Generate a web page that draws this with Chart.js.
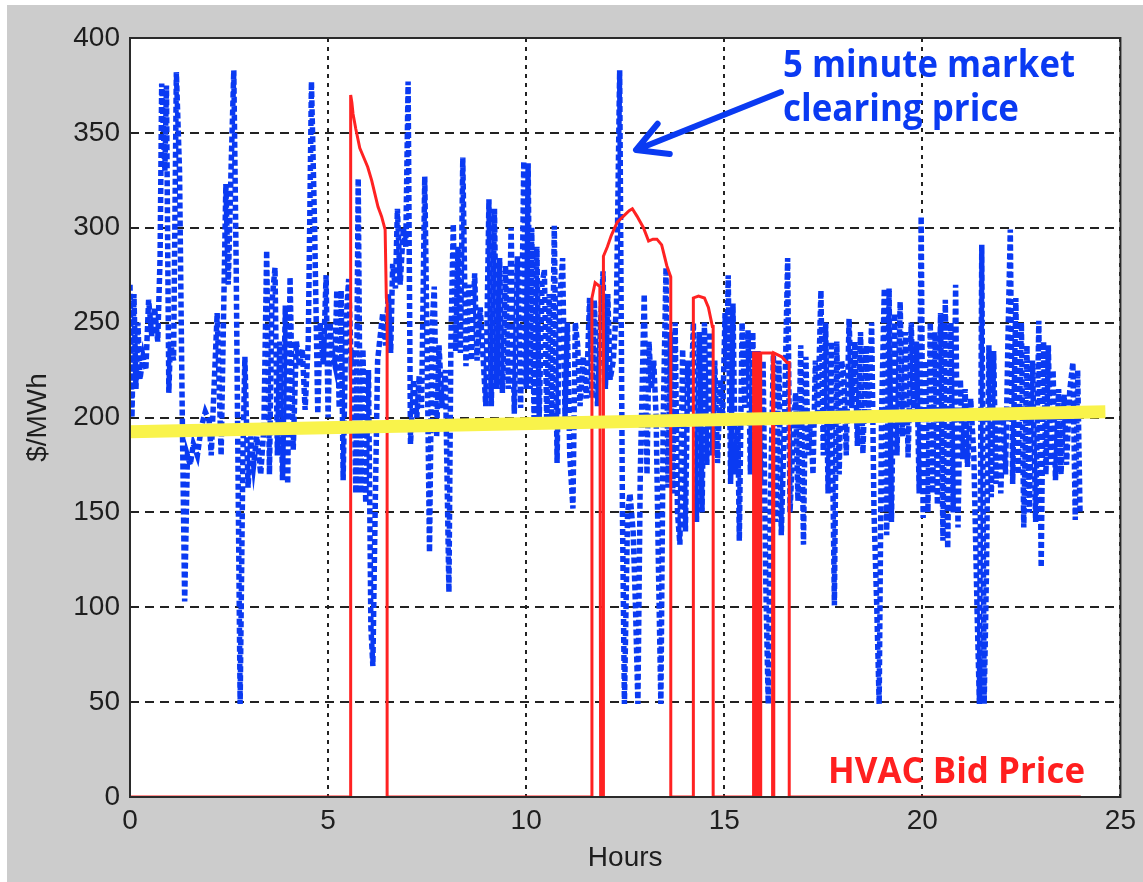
<!DOCTYPE html>
<html>
<head>
<meta charset="utf-8">
<script src="https://cdn.jsdelivr.net/npm/chart.js@4.4.1/dist/chart.umd.min.js"></script>
<style>
  html, body { margin: 0; padding: 0; background: #ffffff; }
  #wrap { width: 1143px; height: 882px; }
</style>
</head>
<body>
<div id="wrap"><canvas id="priceChart"></canvas></div>
<script>
// 5 minute market clearing price ($/MWh)
const priceHours = [
  0.00, 0.05, 0.10, 0.15, 0.20, 0.25, 0.33, 0.40, 0.47, 0.55, 0.62, 0.70, 0.76, 0.80, 0.88, 0.92, 0.98,
  1.02, 1.10, 1.17, 1.25, 1.32, 1.38, 1.45, 1.52, 1.60, 1.70, 1.80, 1.90, 2.00, 2.05, 2.20, 2.30, 2.42,
  2.48, 2.55, 2.62, 2.68, 2.78, 2.85, 2.90, 2.98, 3.05, 3.12, 3.20, 3.30, 3.38, 3.45, 3.52, 3.58, 3.66,
  3.72, 3.78, 3.85, 3.92, 3.98, 4.04, 4.12, 4.20, 4.28, 4.35, 4.42, 4.50, 4.58, 4.66, 4.74, 4.80, 4.88,
  4.95, 5.00, 5.05, 5.10, 5.17, 5.22, 5.28, 5.33, 5.38, 5.45, 5.52, 5.58, 5.64, 5.70, 5.76, 5.82, 5.88,
  5.95, 6.02, 6.08, 6.13, 6.18, 6.25, 6.30, 6.38, 6.45, 6.52, 6.58, 6.63, 6.70, 6.75, 6.82, 6.90, 6.96,
  7.02, 7.08, 7.16, 7.24, 7.30, 7.36, 7.44, 7.50, 7.56, 7.62, 7.68, 7.74, 7.80, 7.88, 7.96, 8.05, 8.10,
  8.16, 8.22, 8.28, 8.34, 8.40, 8.48, 8.55, 8.62, 8.70, 8.76, 8.84, 8.92, 8.98, 9.06, 9.12, 9.20, 9.26,
  9.33, 9.40, 9.48, 9.55, 9.62, 9.70, 9.78, 9.86, 9.94, 10.00, 10.05, 10.10, 10.14, 10.20, 10.27, 10.33,
  10.40, 10.46, 10.52, 10.58, 10.65, 10.71, 10.78, 10.84, 10.92, 10.98, 11.04, 11.10, 11.18, 11.24,
  11.30, 11.36, 11.44, 11.52, 11.60, 11.66, 11.72, 11.80, 11.88, 11.94, 12.00, 12.06, 12.12, 12.20,
  12.28, 12.36, 12.43, 12.48, 12.56, 12.62, 12.70, 12.76, 12.82, 12.88, 12.98, 13.05, 13.10, 13.16,
  13.22, 13.28, 13.34, 13.40, 13.46, 13.53, 13.58, 13.64, 13.70, 13.76, 13.82, 13.88, 13.95, 14.02,
  14.08, 14.15, 14.22, 14.30, 14.37, 14.44, 14.50, 14.56, 14.63, 14.70, 14.76, 14.83, 14.90, 14.96,
  15.02, 15.06, 15.10, 15.16, 15.22, 15.28, 15.34, 15.38, 15.45, 15.52, 15.60, 15.66, 15.72, 15.78,
  15.85, 15.92, 15.98, 16.05, 16.11, 16.16, 16.24, 16.30, 16.38, 16.44, 16.52, 16.60, 16.66, 16.72,
  16.80, 16.86, 16.93, 17.00, 17.06, 17.12, 17.18, 17.24, 17.30, 17.36, 17.44, 17.50, 17.56, 17.62,
  17.70, 17.78, 17.84, 17.90, 17.96, 18.02, 18.08, 18.15, 18.22, 18.30, 18.36, 18.44, 18.50, 18.58,
  18.64, 18.72, 18.78, 18.85, 18.91, 18.97, 19.04, 19.10, 19.16, 19.22, 19.30, 19.36, 19.44, 19.50,
  19.58, 19.64, 19.72, 19.78, 19.85, 19.92, 19.97, 20.02, 20.08, 20.14, 20.20, 20.26, 20.32, 20.38,
  20.46, 20.52, 20.58, 20.64, 20.72, 20.78, 20.84, 20.90, 20.96, 21.02, 21.08, 21.14, 21.22, 21.30,
  21.38, 21.44, 21.50, 21.56, 21.62, 21.68, 21.74, 21.80, 21.86, 21.92, 21.98, 22.04, 22.10, 22.16,
  22.22, 22.28, 22.36, 22.42, 22.50, 22.56, 22.64, 22.70, 22.78, 22.86, 22.94, 23.00, 23.06, 23.12,
  23.18, 23.24, 23.30, 23.36, 23.44, 23.50, 23.58, 23.64, 23.72, 23.80, 23.86, 23.92, 23.98
];
const priceValues = [
  270, 200, 265, 215, 250, 220, 232, 225, 262, 243, 258, 240, 285, 376, 330, 375, 213,
  240, 230, 382, 330, 200, 103, 180, 175, 186, 180, 195, 203, 198, 180, 255, 180, 323,
  270, 330, 383, 280, 49, 180, 232, 163, 190, 175, 190, 170, 195, 288, 170, 260, 279,
  180, 240, 167, 259, 165, 274, 183, 240, 227, 236, 204, 240, 377, 300, 202, 250, 228,
  275, 200, 250, 235, 228, 267, 205, 267, 167, 250, 273, 230, 236, 160, 326, 160, 236,
  155, 225, 90, 69, 140, 230, 240, 255, 238, 265, 234, 281, 268, 310, 270, 300, 290,
  377, 186, 220, 200, 222, 205, 327, 235, 129, 245, 269, 190, 238, 205, 225, 108, 240,
  302, 235, 290, 234, 337, 227, 270, 230, 276, 230, 258, 229, 206, 315, 206, 310, 215,
  284, 213, 280, 215, 300, 202, 285, 205, 335, 215, 334, 215, 300, 197, 290, 200,
  270, 278, 195, 265, 200, 301, 176, 260, 284, 200, 250, 180, 152, 250,
  238, 206, 232, 210, 263, 210, 262, 206, 250, 277, 215, 265, 220, 230,
  260, 383, 150, 49, 150, 160, 140, 100, 49, 170, 265, 170, 240, 215,
  230, 200, 120, 49, 200, 279, 163, 245, 160, 250, 150, 133, 236, 140,
  230, 200, 250, 145, 245, 150, 250, 175, 245, 180, 230, 176, 220, 200,
  255, 225, 275, 165, 260, 170, 200, 135, 250, 205, 246, 170, 245, 175,
  235, 165, 230, 110, 49, 150, 233, 145, 230, 138, 200, 284, 150, 180,
  213, 156, 238, 133, 232, 180, 200, 170, 230, 200, 267, 180, 250, 160,
  240, 101, 240, 170, 230, 222, 180, 252, 205, 240, 185, 245, 181, 238,
  200, 250, 150, 100, 49, 200, 268, 138, 268, 145, 255, 180, 261, 190,
  245, 179, 250, 200, 240, 160, 306, 147, 230, 150, 250, 160, 245, 154,
  255, 135, 262, 131, 250, 150, 270, 142, 220, 178, 215, 174, 210, 180,
  100, 49, 291, 49, 120, 238, 158, 235, 165, 205, 160, 200, 170, 240,
  299, 165, 263, 170, 250, 142, 238, 150, 230, 145, 251, 121, 240, 170,
  238, 175, 225, 167, 215, 170, 212, 175, 214, 229, 146, 225, 150
];

// HVAC bid price ($/MWh)
const bidHours = [
  0, 5.57, 5.57, 5.60, 5.63, 5.70, 5.80, 5.90, 6.00, 6.10, 6.18, 6.26, 6.35, 6.44, 6.47, 6.49, 6.49,
  11.66, 11.66, 11.74, 11.86, 11.88, 11.95, 11.95, 12.05, 12.15, 12.30, 12.45, 12.60, 12.68, 12.80,
  12.96, 13.09, 13.20, 13.30, 13.42, 13.55, 13.65, 13.65,
  14.22, 14.22, 14.35, 14.50, 14.60, 14.70, 14.72, 14.72,
  15.74, 15.74, 15.78, 15.78, 15.82, 15.82, 15.87, 15.87, 15.92, 15.92,
  16.22, 16.22, 16.25, 16.25, 16.45, 16.58, 16.64, 16.64, 24
];
const bidValues = [
  0, 0, 370, 366, 360, 352, 342, 337, 332, 325, 318, 311, 306, 299, 263, 260, 0,
  0, 263, 271, 269, 0, 0, 285, 290, 296, 303, 306, 309, 310, 306,
  300, 293, 294, 294, 291, 280, 274, 0,
  0, 263, 264, 263, 258, 248, 248, 0,
  0, 234, 234, 0, 0, 234, 234, 0, 0, 234,
  234, 0, 0, 234, 232, 229, 229, 0, 0
];

// yellow reference line
const trendHours = [0, 24.62];
const trendValues = [192.5, 203];

const toPoints = (xs, ys) => xs.map((x, i) => ({ x: x, y: ys[i] }));

const frameAndNotes = {
  id: 'frameAndNotes',
  beforeDraw(chart) {
    const { ctx, chartArea: a, width, height } = chart;
    ctx.save();
    ctx.fillStyle = '#ffffff';
    ctx.fillRect(0, 0, width, height);
    ctx.fillStyle = '#cccccc';
    ctx.fillRect(7, 5, width - 7, height - 5);
    ctx.fillStyle = '#ffffff';
    ctx.fillRect(a.left, a.top, a.right - a.left, a.bottom - a.top);
    ctx.restore();
  },
  afterDatasetsDraw(chart) {
    const { ctx, chartArea: a } = chart;
    ctx.save();
    ctx.strokeStyle = '#2a2a2a';
    ctx.lineWidth = 2;
    ctx.strokeRect(a.left, a.top, a.right - a.left, a.bottom - a.top);

    // arrow to the price line
    const tip = { x: 636, y: 150 };
    const tail = { x: 781, y: 92 };
    const ang = Math.atan2(tail.y - tip.y, tail.x - tip.x);
    ctx.strokeStyle = '#0a3af2';
    ctx.lineWidth = 6;
    ctx.lineCap = 'round';
    ctx.lineJoin = 'round';
    ctx.beginPath();
    ctx.moveTo(tail.x, tail.y);
    ctx.lineTo(tip.x, tip.y);
    ctx.moveTo(tip.x + 34 * Math.cos(ang - 0.5), tip.y + 34 * Math.sin(ang - 0.5));
    ctx.lineTo(tip.x, tip.y);
    ctx.lineTo(tip.x + 34 * Math.cos(ang + 0.5), tip.y + 34 * Math.sin(ang + 0.5));
    ctx.stroke();

    ctx.textBaseline = 'alphabetic';
    ctx.textAlign = 'left';
    ctx.fillStyle = '#0a3af2';
    ctx.font = 'bold 38px "Open Sans"';
    ctx.fillText('5 minute market', 783, 77, 292);
    ctx.fillText('clearing price', 783, 121, 236);

    ctx.fillStyle = '#ff1f1f';
    ctx.font = 'bold 35px "Open Sans"';
    ctx.fillText('HVAC Bid Price', 828, 783, 257);
    ctx.restore();
  }
};

Chart.defaults.font.family = '"Liberation Sans", Arial, sans-serif';

new Chart(document.getElementById('priceChart'), {
  type: 'line',
  data: {
    datasets: [
      {
        label: 'Trend',
        data: toPoints(trendHours, trendValues),
        borderColor: '#f9f34b',
        borderWidth: 13,
        pointRadius: 0,
        order: 0
      },
      {
        label: 'HVAC Bid Price',
        data: toPoints(bidHours, bidValues),
        borderColor: '#ff2222',
        borderWidth: 3,
        pointRadius: 0,
        order: 1
      },
      {
        label: '5 minute market clearing price',
        data: toPoints(priceHours, priceValues),
        borderColor: '#0a3af2',
        borderWidth: 5.5,
        borderDash: [6, 3],
        pointRadius: 0,
        order: 2
      }
    ]
  },
  options: {
    responsive: true,
    maintainAspectRatio: false,
    animation: false,
    devicePixelRatio: 1,
    layout: { padding: { left: 0, top: 38, right: 22, bottom: 0 } },
    plugins: {
      legend: { display: false },
      tooltip: { enabled: false }
    },
    elements: { line: { tension: 0 } },
    scales: {
      x: {
        type: 'linear',
        min: 0,
        max: 25,
        ticks: { stepSize: 5, color: '#1e1e1e', font: { size: 28 }, padding: 7, maxRotation: 0 },
        grid: { color: '#222222', lineWidth: 2, drawTicks: false },
        border: { display: false, dash: [4, 5] },
        title: { display: true, text: 'Hours', color: '#1e1e1e', font: { size: 28 }, padding: { top: 0, bottom: 7 } },
        afterFit: (scale) => { scale.height = 85; }
      },
      y: {
        type: 'linear',
        min: 0,
        max: 400,
        ticks: { stepSize: 50, color: '#1e1e1e', font: { size: 28 }, padding: 10 },
        grid: { color: '#222222', lineWidth: 2, drawTicks: false },
        border: { display: false, dash: [9, 6] },
        title: { display: true, text: '$/MWh', color: '#1e1e1e', font: { size: 28 }, padding: { top: 21, bottom: 0 } },
        afterFit: (scale) => { scale.width = 130; }
      }
    }
  },
  plugins: [frameAndNotes]
});
</script>
</body>
</html>
